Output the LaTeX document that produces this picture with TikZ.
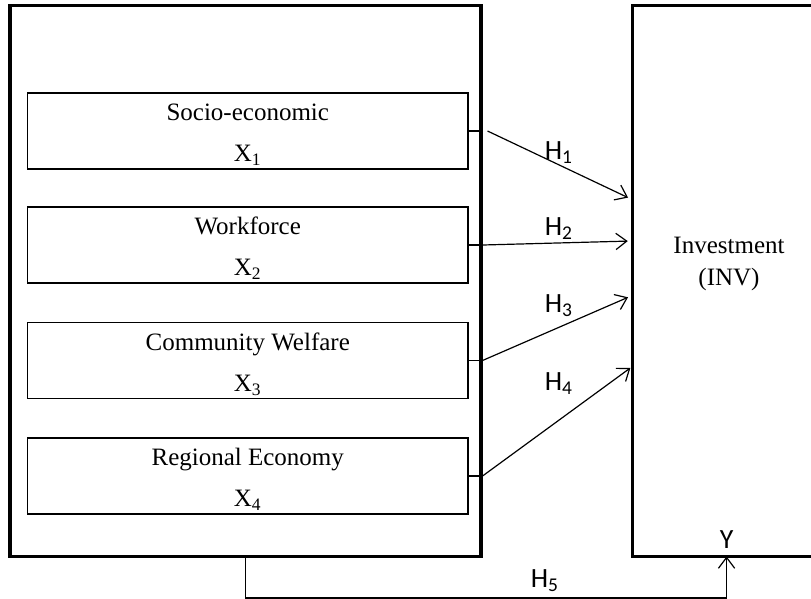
\documentclass[tikz,border=0pt]{standalone}
\usepackage{fontspec}
\setmainfont{Liberation Serif}
\newfontfamily\hypfont{Carlito}
\usetikzlibrary{arrows.meta,positioning,calc}
\newcommand{\pxu}{0.46pt}
\newcommand{\toprule}{\rule{0pt}{11.3pt}}

\begin{document}
\begin{tikzpicture}[x=\pxu,y=-\pxu,
  frame/.style={line width=1.4pt},
  varbox/.style={draw,line width=0.8pt,minimum width=440.5*\pxu,minimum height=76*\pxu,
    inner sep=0pt,align=center,font=\fontsize{11.5}{13}\selectfont},
  stub/.style={line width=0.6pt},
  link/.style={line width=0.55pt,-{Straight Barb[length=5pt,width=7.5pt,line width=0.55pt]}},
  hyp/.style={font=\hypfont\fontsize{12.8}{14}\selectfont}]
\useasboundingbox (0,0) rectangle (811,598);
% outer frames
\node[draw,frame,inner sep=0pt,minimum width=471*\pxu,minimum height=551*\pxu] (drivers) at (245.5,281) {};
\node[inner sep=0pt,minimum width=178*\pxu,minimum height=550*\pxu] (inv) at (722,281) {};
\draw[frame] (inv.north east) -- (inv.north west) -- (inv.south west) -- (inv.south east);
\node[align=center,font=\fontsize{11.5}{14.7}\selectfont] (invtext) at (729,264) {Investment\\(INV)};
\coordinate (yin) at ($(inv.south west)+(94,0)$);
% independent variables
\node[varbox] (socio) at (247.75,131) {\toprule Socio-economic\\[6pt]X\textsubscript{1}};
\node[varbox] (work) at (247.75,245) {\toprule Workforce\\[6pt]X\textsubscript{2}};
\node[varbox] (welf) at (247.75,360.5) {\toprule Community Welfare\\[6pt]X\textsubscript{3}};
\node[varbox] (econ) at (247.75,476) {\toprule Regional Economy\\[6pt]X\textsubscript{4}};
\foreach \v in {socio,work,welf,econ}
  \draw[stub] (\v.east) -- (\v.east -| drivers.east);
% hypotheses
\coordinate (t1) at (631,199);
\coordinate (t2) at (631,241);
\coordinate (t3) at (631,296);
\coordinate (t4) at (633,366);
\draw[link,shorten >=1.5pt] ($(socio.east -| drivers.east)+(5,0)$) -- (t1);
\draw[link,shorten >=1.5pt] (work.east -| drivers.east) -- (t2);
\draw[link,shorten >=1.5pt] (welf.east -| drivers.east) -- (t3);
\draw[link,shorten >=1.5pt] (econ.east -| drivers.east) -- (t4);
\node[hyp] (h1) at (559,153) {H\textsubscript{1}};
\node[hyp] (h2) at (559,229) {H\textsubscript{2}};
\node[hyp] (h3) at (559,306) {H\textsubscript{3}};
\node[hyp] (h4) at (559,384) {H\textsubscript{4}};
\draw[link] (drivers.south) -- ($(drivers.south)+(0,40)$) -| (yin);
\node[hyp] (h5) at (545,581) {H\textsubscript{5}};
\node[hyp,above=0pt of yin] (ylbl) {Y};
\end{tikzpicture}
\end{document}
